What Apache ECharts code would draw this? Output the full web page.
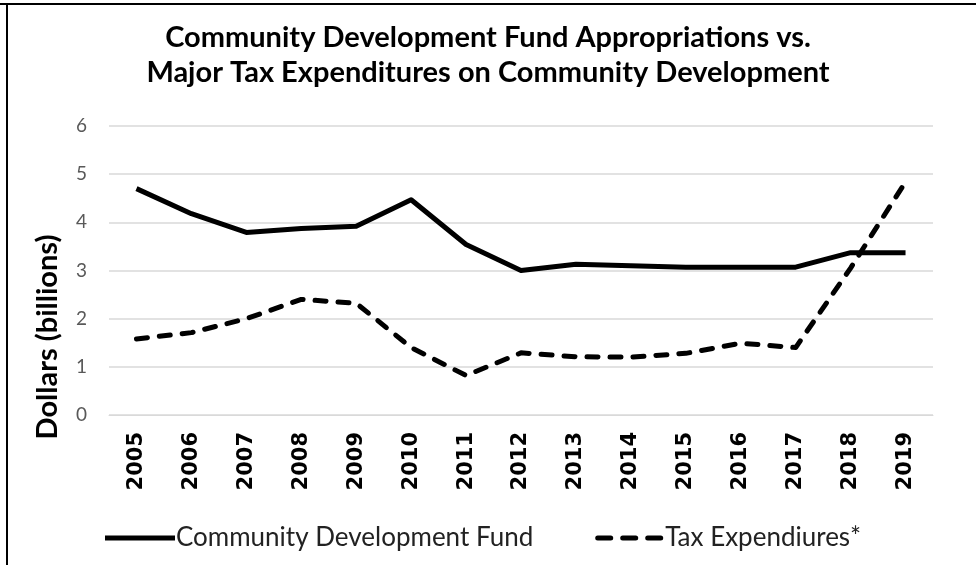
<!DOCTYPE html>
<html>
<head>
<meta charset="utf-8">
<script src="https://cdn.jsdelivr.net/npm/echarts@6/dist/echarts.min.js"></script>
<style>
  html, body { margin: 0; padding: 0; background: #fff; }
  #chart { width: 976px; height: 565px; }
</style>
</head>
<body>
<div id="chart"></div>
<script>
  // data
  var years = ['2005', '2006', '2007', '2008', '2009', '2010', '2011', '2012',
               '2013', '2014', '2015', '2016', '2017', '2018', '2019']
  var fund = [4.70, 4.18, 3.79, 3.87, 3.92, 4.47, 3.54, 3.00, 3.13, 3.10, 3.07, 3.07, 3.07, 3.37, 3.37]
  var taxExp = [1.58, 1.71, 2.00, 2.40, 2.32, 1.40, 0.82, 1.29, 1.21, 1.20, 1.28, 1.49, 1.40, 3.05, 4.84]
  var yTicks = [0, 1, 2, 3, 4, 5, 6]

  var chart = echarts.init(document.getElementById('chart'))

  chart.setOption({
    backgroundColor: '#fff',
    animation: false,
    title: {
      text: 'Community Development Fund Appropriations vs.\nMajor Tax Expenditures on Community Development',
      left: 'center',
      top: 15,
      textStyle: {
        fontFamily: 'Lato',
        fontWeight: 'bold',
        fontSize: 29,
        lineHeight: 35,
        color: '#000'
      }
    },
    graphic: [
      // border lines of the original picture
      { type: 'line', shape: { x1: 0, y1: 4, x2: 976, y2: 4 }, style: { stroke: '#000', lineWidth: 2 } },
      { type: 'line', shape: { x1: 7, y1: 3, x2: 7, y2: 565 }, style: { stroke: '#000', lineWidth: 2 } },
      // y axis title, sits lower than the plot middle
      {
        type: 'text',
        x: 48,
        y: 337,
        rotation: Math.PI / 2,
        style: {
          text: 'Dollars (billions)',
          align: 'center',
          verticalAlign: 'middle',
          fontFamily: 'Lato',
          fontWeight: 'bold',
          fontSize: 29,
          fill: '#000'
        }
      }
    ],
    legend: {
      left: 100,
      top: 520,
      itemWidth: 70,
      itemHeight: 5,
      itemGap: 62,
      textStyle: {
        fontFamily: 'Lato',
        fontSize: 26,
        color: '#222',
        padding: [0, 0, 0, -4]
      },
      data: [
        { name: 'Community Development Fund', icon: 'rect' },
        { name: 'Tax Expendiures*', icon: 'path://M2.5,0h13a2.5,2.5 0 0 1 0,5h-13a2.5,2.5 0 0 1 0,-5z M27.5,0h13a2.5,2.5 0 0 1 0,5h-13a2.5,2.5 0 0 1 0,-5z M52.5,0h13a2.5,2.5 0 0 1 0,5h-13a2.5,2.5 0 0 1 0,-5z' }
      ]
    },
    grid: {
      left: 109,
      right: 43,
      top: 126,
      bottom: 150
    },
    xAxis: {
      type: 'category',
      data: years,
      boundaryGap: true,
      axisLine: { lineStyle: { color: '#d9d9d9' } },
      axisTick: { show: false },
      axisLabel: {
        rotate: 90,
        margin: 17,
        fontFamily: 'DejaVu Sans',
        fontWeight: 'bold',
        fontSize: 21,
        color: '#000'
      }
    },
    yAxis: {
      type: 'value',
      min: yTicks[0],
      max: yTicks[yTicks.length - 1],
      interval: 1,
      axisLine: { show: false },
      axisTick: { show: false },
      splitLine: { lineStyle: { color: '#d9d9d9', width: 1.5 } },
      axisLabel: {
        margin: 22,
        fontFamily: 'Lato',
        fontSize: 19,
        color: '#595959'
      }
    },
    series: [
      {
        name: 'Community Development Fund',
        type: 'line',
        data: fund,
        symbol: 'none',
        lineStyle: { color: '#000', width: 5, join: 'round' },
        itemStyle: { color: '#000' }
      },
      {
        name: 'Tax Expendiures*',
        type: 'line',
        data: taxExp,
        symbol: 'none',
        lineStyle: { color: '#000', width: 5, type: [11, 12], cap: 'round', join: 'round' },
        itemStyle: { color: '#000' }
      }
    ]
  })
</script>
</body>
</html>
